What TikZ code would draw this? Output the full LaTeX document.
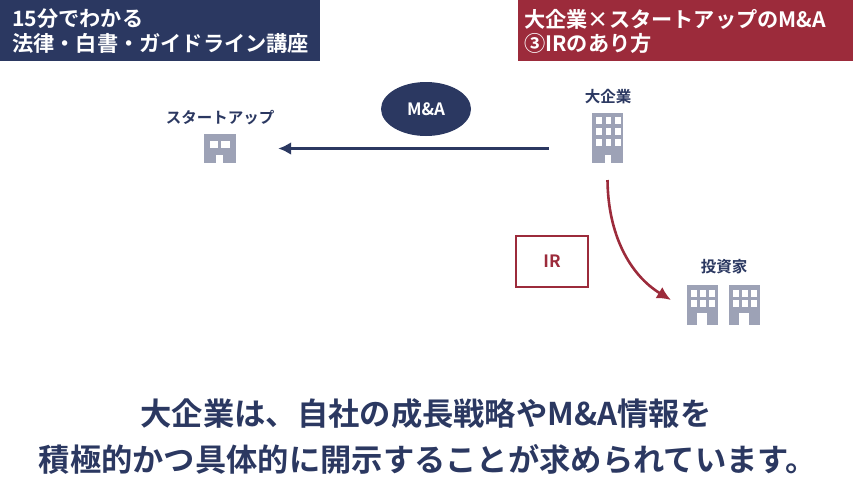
\documentclass[tikz,border=0pt]{standalone}
\usepackage{fontspec}
\setmainfont{Noto Sans CJK JP}[BoldFont={Noto Sans CJK JP Bold}]
\usetikzlibrary{arrows.meta}
\usetikzlibrary{shapes.geometric}
\definecolor{navy}{HTML}{2B3861}
\definecolor{wine}{HTML}{9C2B3B}
\definecolor{bldg}{HTML}{9DA2B6}
\tikzset{
	banner/.style={anchor=north west,inner sep=0pt,text=white,font=\bfseries\fontsize{21.2}{24.5}\selectfont,align=left,text width=#1},
	caption/.style={text=navy,font=\bfseries\fontsize{15.5}{17}\selectfont,inner sep=0pt},
	headline/.style={text=navy,font=\bfseries\fontsize{31.3}{31.3}\selectfont,inner sep=0pt},
	bldgbox/.style={fill=bldg,inner sep=0pt,minimum width=#1},
	pane/.style={fill=white},
}
\begin{document}
\begin{tikzpicture}[x=1pt,y=-1pt]
	\useasboundingbox (0,0) rectangle (853,480);
	\fill[navy] (0,0) rectangle (320,61);
	\fill[wine] (518,0) rectangle (853,61);
	\node[banner=308pt] (lefthead) at (12,9) {15分でわかる\\法律・白書・ガイドライン講座};
	\node[banner=329pt] (righthead) at (524,9) {大企業×スタートアップのM\&A\\③IRのあり方};

	% buildings
	\node[bldgbox=31pt,minimum height=50pt] (bigcorp) at (607.5,138) {};
	\foreach \x in {596,605.5,615}
		\foreach \y in {117,128,139}
			\fill[pane] (\x,\y) rectangle +(5.5,6.5);
	\fill[pane] (605,155) rectangle (611,163);

	\node[bldgbox=32pt,minimum height=29pt] (startup) at (220,148.5) {};
	\fill[pane] (210,141) rectangle (218,148);
	\fill[pane] (221,141) rectangle (230,148);
	\fill[pane] (216,155) rectangle (223,163);

	\foreach \n/\dx in {inva/0,invb/42} {
		\node[bldgbox=31pt,minimum height=40pt] (\n) at (702.5+\dx,305) {};
		\foreach \x in {691,700,709}
			\foreach \y in {290,300}
				\fill[pane] (\x+\dx,\y) rectangle +(5.5,6.5);
		\fill[pane] (697+\dx,313) rectangle (707+\dx,325);
	}

	\node[caption] (bigcorplabel) at (608,97) {大企業};
	\node[caption] (startuplabel) at (220,118) {スタートアップ};
	\node[caption] (invlabel) at (724,267) {投資家};

	\node[ellipse,fill=navy,minimum width=90pt,minimum height=54pt,inner sep=0pt,text=white,font=\bfseries\fontsize{17}{17}\selectfont] (ma) at (426,109) {M\&A};
	\node[draw=wine,line width=1.2pt,minimum width=72pt,minimum height=51pt,inner sep=0pt,text=wine,font=\bfseries\fontsize{17}{17}\selectfont] (ir) at (552,261.5) {IR};

	\draw[navy,line width=2.6pt,-{Latex[length=13pt,width=13pt]},shorten <=43pt,shorten >=42pt] (bigcorp.west |- startup) -- (startup.east);
	\coordinate (irstart) at (607.5,180);
	\coordinate (irend) at (671,300);
	\draw[wine,line width=2.6pt,-{Latex[length=14pt,width=13pt]}] (irstart) .. controls (608,235) and (630,275) .. (irend);

	\node[headline] (lineone) at (426,414) {大企業は、自社の成長戦略やM\&A情報を};
	\node[headline] (linetwo) at (428,459) {積極的かつ具体的に開示することが求められています。};
\end{tikzpicture}
\end{document}
